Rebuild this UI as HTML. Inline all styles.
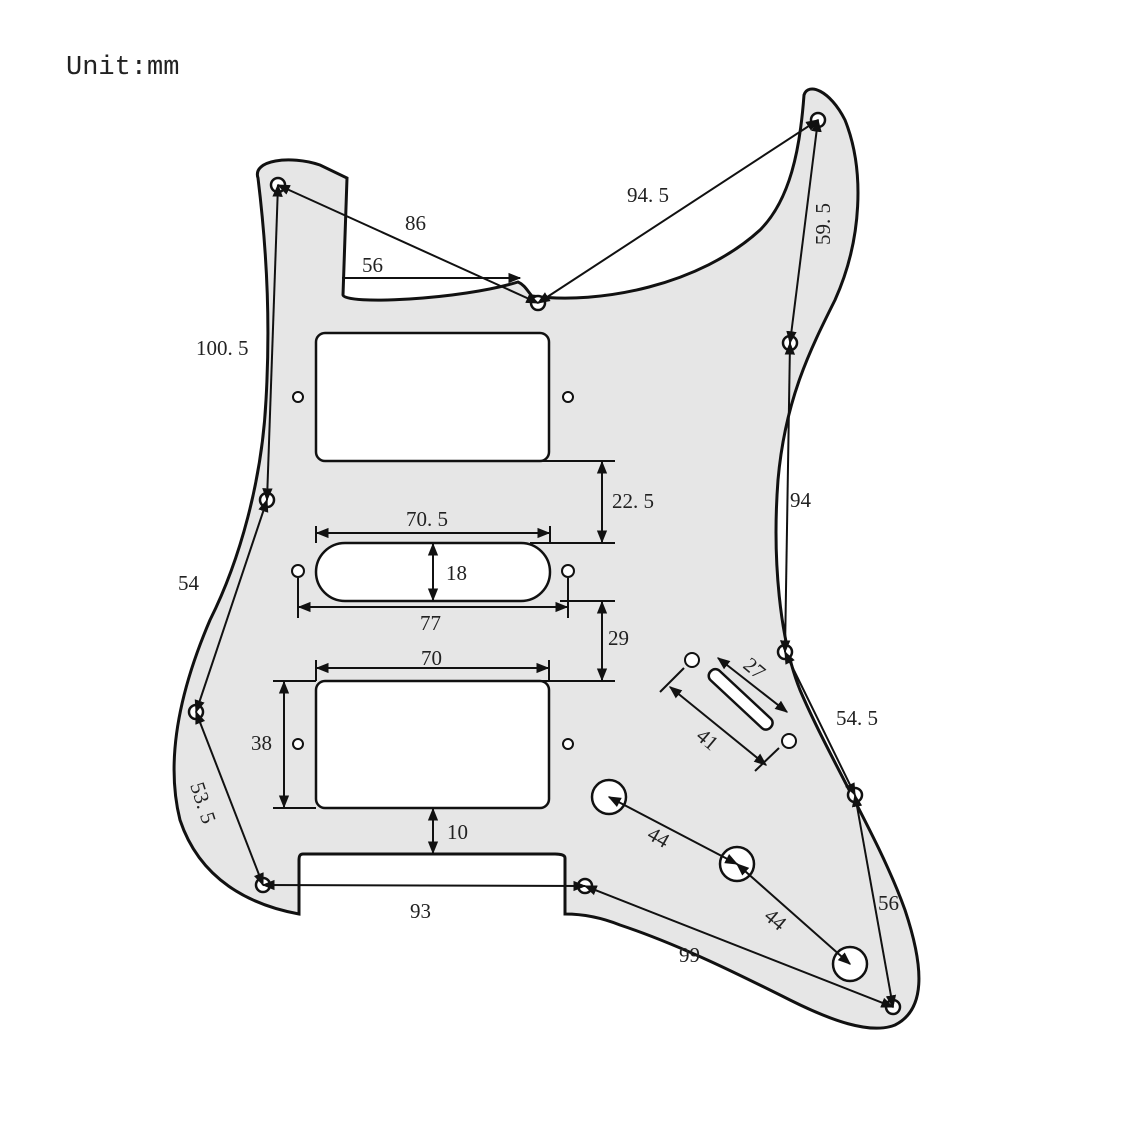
<!DOCTYPE html>
<html><head><meta charset="utf-8"><style>
html,body{margin:0;padding:0;background:#fff;}
svg{display:block}
text{font-family:"Liberation Serif","Noto Serif CJK SC",serif;font-size:21px;fill:#222;}
</style></head><body>
<svg width="1137" height="1137" viewBox="0 0 1137 1137" xmlns="http://www.w3.org/2000/svg">
<defs>
<marker id="a" viewBox="0 0 10 10" refX="9" refY="5" markerWidth="13" markerHeight="13" orient="auto-start-reverse" markerUnits="userSpaceOnUse"><path d="M0,1 L10,5 L0,9 z" fill="#111"/></marker>
</defs>
<text x="66" y="74" style="font-family:'Liberation Mono',monospace;font-size:27px">Unit:mm</text>
<path d="M258,178 C252,160 290,155 320,165 L347,178 L343,295 C345,305 460,300 518,282 C525,285 528,292 532,296 C600,305 700,285 760,230 C790,200 800,150 804,95 C808,82 830,90 845,120 C865,170 862,240 835,300 C810,350 785,400 778,480 C772,560 780,640 800,690 C830,760 880,840 905,910 C925,970 925,1010 895,1025 C870,1035 830,1020 790,1000 C740,975 680,945 620,925 C600,917 580,914 565,914 L565,858 C565,855 560,854 555,854 L303,854 C300,854 299,856 299,860 L299,914 C250,905 200,880 180,820 C165,760 180,690 210,620 C240,560 262,480 266,400 C270,330 268,260 258,178 Z" fill="#e6e6e6" stroke="#111" stroke-width="3"/>
<g fill="#fff" stroke="#111" stroke-width="2.5">
<rect x="316" y="333" width="233" height="128" rx="9"/>
<rect x="316" y="543" width="234" height="58" rx="29"/>
<rect x="316" y="681" width="233" height="127" rx="9"/>
<rect x="700" y="693" width="82" height="13" rx="6" transform="rotate(43 741 699)"/>
<circle cx="609" cy="797" r="17"/><circle cx="737" cy="864" r="17"/><circle cx="850" cy="964" r="17"/>
</g>
<g fill="#fff" stroke="#111" stroke-width="2.5">
<circle cx="278" cy="185" r="7"/><circle cx="538" cy="303" r="7"/><circle cx="818" cy="120" r="7"/><circle cx="790" cy="343" r="7"/><circle cx="267" cy="500" r="7"/><circle cx="785" cy="652" r="7"/><circle cx="196" cy="712" r="7"/><circle cx="855" cy="795" r="7"/><circle cx="263" cy="885" r="7"/><circle cx="585" cy="886" r="7"/><circle cx="893" cy="1007" r="7"/>
</g>
<g fill="#fff" stroke="#111" stroke-width="2">
<circle cx="298" cy="397" r="5"/><circle cx="568" cy="397" r="5"/><circle cx="298" cy="571" r="6"/><circle cx="568" cy="571" r="6"/><circle cx="298" cy="744" r="5"/><circle cx="568" cy="744" r="5"/><circle cx="692" cy="660" r="7"/><circle cx="789" cy="741" r="7"/>
</g>
<g stroke="#111" stroke-width="2" fill="none">
<line x1="278" y1="185" x2="538" y2="303" marker-start="url(#a)" marker-end="url(#a)"/>
<line x1="342" y1="278" x2="520" y2="278" marker-end="url(#a)"/>
<line x1="538" y1="303" x2="818" y2="120" marker-start="url(#a)" marker-end="url(#a)"/>
<line x1="818" y1="120" x2="790" y2="343" marker-start="url(#a)" marker-end="url(#a)"/>
<line x1="790" y1="343" x2="785" y2="652" marker-start="url(#a)" marker-end="url(#a)"/>
<line x1="278" y1="185" x2="267" y2="500" marker-start="url(#a)" marker-end="url(#a)"/>
<line x1="267" y1="500" x2="196" y2="712" marker-start="url(#a)" marker-end="url(#a)"/>
<line x1="196" y1="712" x2="263" y2="885" marker-start="url(#a)" marker-end="url(#a)"/>
<line x1="263" y1="885" x2="585" y2="886" marker-start="url(#a)" marker-end="url(#a)"/>
<line x1="585" y1="886" x2="893" y2="1007" marker-start="url(#a)" marker-end="url(#a)"/>
<line x1="785" y1="652" x2="855" y2="795" marker-start="url(#a)" marker-end="url(#a)"/>
<line x1="855" y1="795" x2="893" y2="1007" marker-start="url(#a)" marker-end="url(#a)"/>
<line x1="609" y1="797" x2="737" y2="864" marker-start="url(#a)" marker-end="url(#a)"/>
<line x1="737" y1="864" x2="850" y2="964" marker-start="url(#a)" marker-end="url(#a)"/>
<line x1="540" y1="461" x2="615" y2="461"/><line x1="530" y1="543" x2="615" y2="543"/>
<line x1="602" y1="462" x2="602" y2="542" marker-start="url(#a)" marker-end="url(#a)"/>
<line x1="560" y1="601" x2="615" y2="601"/><line x1="540" y1="681" x2="615" y2="681"/>
<line x1="602" y1="602" x2="602" y2="680" marker-start="url(#a)" marker-end="url(#a)"/>
<line x1="316" y1="526" x2="316" y2="543"/><line x1="550" y1="526" x2="550" y2="543"/>
<line x1="317" y1="533" x2="549" y2="533" marker-start="url(#a)" marker-end="url(#a)"/>
<line x1="433" y1="544" x2="433" y2="600" marker-start="url(#a)" marker-end="url(#a)"/>
<line x1="298" y1="578" x2="298" y2="618"/><line x1="568" y1="578" x2="568" y2="618"/>
<line x1="299" y1="607" x2="567" y2="607" marker-start="url(#a)" marker-end="url(#a)"/>
<line x1="316" y1="660" x2="316" y2="681"/><line x1="549" y1="660" x2="549" y2="681"/>
<line x1="317" y1="668" x2="548" y2="668" marker-start="url(#a)" marker-end="url(#a)"/>
<line x1="273" y1="681" x2="316" y2="681"/><line x1="273" y1="808" x2="316" y2="808"/>
<line x1="284" y1="682" x2="284" y2="807" marker-start="url(#a)" marker-end="url(#a)"/>
<line x1="433" y1="809" x2="433" y2="853" marker-start="url(#a)" marker-end="url(#a)"/>
<line x1="660" y1="692" x2="684" y2="668"/><line x1="755" y1="771" x2="779" y2="748"/>
<line x1="670" y1="687" x2="766" y2="765" marker-start="url(#a)" marker-end="url(#a)"/>
<line x1="718" y1="658" x2="787" y2="712" marker-start="url(#a)" marker-end="url(#a)"/>
</g>
<text x="405" y="230">86</text>
<text x="362" y="272">56</text>
<text x="627" y="202">94. 5</text>
<text x="196" y="355">100. 5</text>
<text x="612" y="508">22. 5</text>
<text x="406" y="526">70. 5</text>
<text x="446" y="580">18</text>
<text x="420" y="630">77</text>
<text x="608" y="645">29</text>
<text x="421" y="665">70</text>
<text x="251" y="750">38</text>
<text x="447" y="839">10</text>
<text x="410" y="918">93</text>
<text x="679" y="962">99</text>
<text x="178" y="590">54</text>
<text x="790" y="507">94</text>
<text x="836" y="725">54. 5</text>
<text x="878" y="910">56</text>
<text transform="translate(830,245) rotate(-90)">59. 5</text>
<text transform="translate(190,785) rotate(72)">53. 5</text>
<text transform="translate(646,838) rotate(30)">44</text>
<text transform="translate(763,918) rotate(40)">44</text>
<text transform="translate(695,738) rotate(40)">41</text>
<text transform="translate(742,667) rotate(40)">27</text>
</svg>
</body></html>
